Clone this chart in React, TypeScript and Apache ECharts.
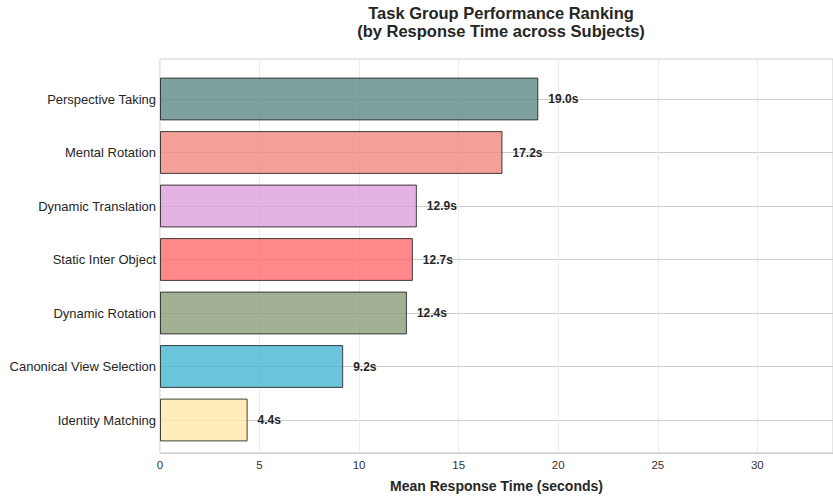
import React, { useEffect, useRef } from "react";
import * as echarts from "echarts";

const categories = [
  "Perspective Taking",
  "Mental Rotation",
  "Dynamic Translation",
  "Static Inter Object",
  "Dynamic Rotation",
  "Canonical View Selection",
  "Identity Matching",
];
const values = [19.0, 17.2, 12.9, 12.7, 12.4, 9.2, 4.4];
const colors = ["#5E8887", "#F08A80", "#DDA0DD", "#FF6B6B", "#8B9C78", "#45B7D1", "#FFEAA7"];
const xTicks = [0, 5, 10, 15, 20, 25, 30];

const FONT = "Liberation Sans, Arial, sans-serif";

function withAlpha(hex: string, a: number) {
  const r = parseInt(hex.slice(1, 3), 16);
  const g = parseInt(hex.slice(3, 5), 16);
  const b = parseInt(hex.slice(5, 7), 16);
  return `rgba(${r},${g},${b},${a})`;
}

export default function App() {
  const ref = useRef<HTMLDivElement>(null);
  useEffect(() => {
    if (!ref.current) return;
    const chart = echarts.init(ref.current, undefined, { renderer: "svg" });
    const xMax = 33.8;
    chart.setOption({
      animation: false,
      textStyle: { fontFamily: FONT },
      title: {
        text: "Task Group Performance Ranking\n(by Response Time across Subjects)",
        left: 496,
        top: -1,
        textAlign: "center",
        textStyle: { fontSize: 16.5, fontWeight: "bold", color: "#262626", lineHeight: 18, fontFamily: FONT },
      },
      grid: [
        { left: 160, right: 0, top: 59, height: 401, show: true, borderColor: "#cccccc", borderWidth: 1, backgroundColor: "transparent" },
        { left: 160, right: 0, top: 99, height: 321 },
      ],
      xAxis: [
        {
          gridIndex: 0,
          type: "value",
          min: 0,
          max: xMax,
          interval: 5,
          axisLine: { show: true, lineStyle: { color: "#cccccc" } },
          axisTick: { show: false },
          axisLabel: {
            color: "#333",
            fontSize: 11.5,
            margin: 6,
            fontFamily: FONT,
            customValues: xTicks,
          },
          splitLine: { show: true, lineStyle: { color: "#ececec", width: 1 } },
          name: "Mean Response Time (seconds)",
          nameLocation: "middle",
          nameGap: 26,
          nameTextStyle: { fontSize: 14, fontWeight: "bold", color: "#262626", fontFamily: FONT },
        },
        {
          gridIndex: 1,
          type: "value",
          min: 0,
          max: xMax,
          show: false,
        },
      ],
      yAxis: [
        { gridIndex: 0, type: "value", show: false },
        {
          gridIndex: 1,
          type: "category",
          data: categories,
          inverse: true,
          boundaryGap: false,
          axisLine: { show: false },
          axisTick: { show: false },
          axisLabel: { color: "#262626", fontSize: 13, margin: 4, fontFamily: FONT },
          splitLine: { show: true, lineStyle: { color: "#cccccc", width: 1 } },
        },
      ],
      series: [
        {
          type: "bar",
          xAxisIndex: 1,
          yAxisIndex: 1,
          clip: false,
          barWidth: 42.8,
          data: values.map((v, i) => ({
            value: v,
            itemStyle: { color: withAlpha(colors[i], 0.8), borderColor: "rgba(34,34,34,0.85)", borderWidth: 1 },
          })),
          label: {
            show: true,
            position: "right",
            distance: 10,
            formatter: (p: any) => p.value.toFixed(1) + "s",
            fontSize: 12,
            fontWeight: "bold",
            color: "#262626",
            fontFamily: FONT,
          },
        },
      ],
    });
    return () => chart.dispose();
  }, []);
  return <div ref={ref} style={{ width: 833, height: 498, position: "absolute", left: 0, top: 0 }} />;
}
